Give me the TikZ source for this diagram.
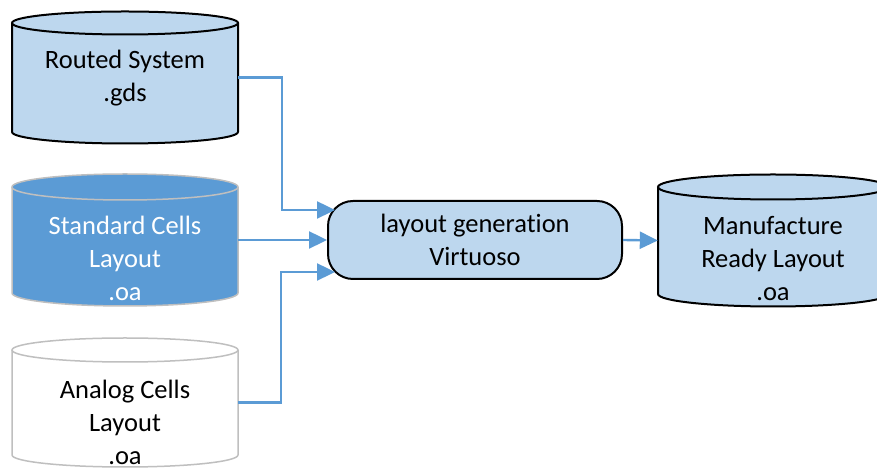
\documentclass[tikz,border=0pt]{standalone}
\usepackage{fontspec}
\setmainfont{Carlito}[Ligatures={NoCommon}]
\usetikzlibrary{arrows.meta,calc}
\definecolor{lightfill}{HTML}{BDD7EE}
\definecolor{midblue}{HTML}{5B9BD5}
\definecolor{grayline}{HTML}{BFBFBF}
\tikzset{
  conn/.style={draw=midblue, line width=2.4pt, -{Triangle[length=18pt,width=17pt]}},
  lbl/.style={align=center, font=\fontsize{26.5}{33}\selectfont, inner sep=0pt},
  procbox/.style={draw=black, line width=2pt, fill=lightfill, rounded corners=25pt,
    minimum width=294pt, minimum height=78pt, inner sep=0pt, align=center,
    font=\fontsize{26.5}{33}\selectfont},
}
% \dbcyl{xl}{xr}{Ytop}{Ybot}{ry}{fill}{draw}{linewidth}
\newcommand{\dbcyl}[8]{%
  \pgfmathsetmacro{\cx}{(#1+#2)/2}%
  \pgfmathsetmacro{\rx}{(#2-#1)/2}%
  \fill[#6] (#1,#3) -- (#1,#4) arc[start angle=180,end angle=360,x radius=\rx,y radius=#5]
     -- (#2,#3) arc[start angle=0,end angle=180,x radius=\rx,y radius=#5] -- cycle;
  \draw[#7, line width=#8] (#1,#3) -- (#1,#4) arc[start angle=180,end angle=360,x radius=\rx,y radius=#5] -- (#2,#3);
  \draw[#7, line width=#8] (\cx,#3) ellipse[x radius=\rx, y radius=#5];
}
\begin{document}
\begin{tikzpicture}[x=1pt,y=1pt]
\useasboundingbox (0,0) rectangle (877,470);
\clip (0,0) rectangle (877,470);
% cylinders
\dbcyl{12}{238}{447}{338}{11.5}{lightfill}{black}{2pt}
\dbcyl{12}{238}{283}{177}{13}{midblue}{grayline}{1.5pt}
\dbcyl{12}{238}{120}{15}{12}{white}{grayline}{1.5pt}
\dbcyl{658}{888}{283}{176}{12.5}{lightfill}{black}{2pt}
% anchor nodes for the cylinders
\node[inner sep=0pt, minimum width=226pt, minimum height=109pt] (rs) at (125,392.5) {};
\node[inner sep=0pt, minimum width=226pt, minimum height=106pt] (sc) at (125,230) {};
\node[inner sep=0pt, minimum width=226pt, minimum height=105pt] (ac) at (125,67.5) {};
\node[inner sep=0pt, minimum width=230pt, minimum height=107pt] (mr) at (773,229.5) {};
% labels
\node[lbl] (rst) at (125,391.5) {Routed System\\.gds};
\node[lbl, text=white] (sct) at (125,212) {Standard Cells\\Layout\\.oa};
\node[lbl] (act) at (125,48) {Analog Cells\\Layout\\.oa};
\node[lbl] (mrt) at (773,211) {Manufacture\\Ready Layout\\.oa};
% process
\node[procbox] (pg) at (475,230) {layout generation\\Virtuoso};
% connectors
\coordinate (in1) at (335,260);
\coordinate (in3) at (335,198);
\draw[conn] (rs.east) -| (282,260) -- (in1);
\draw[conn] (sc.east) -- (pg.west);
\draw[conn] (ac.east) -| (281,198) -- (in3);
\draw[conn] (pg.east) -- (mr.west);
\end{tikzpicture}
\end{document}
